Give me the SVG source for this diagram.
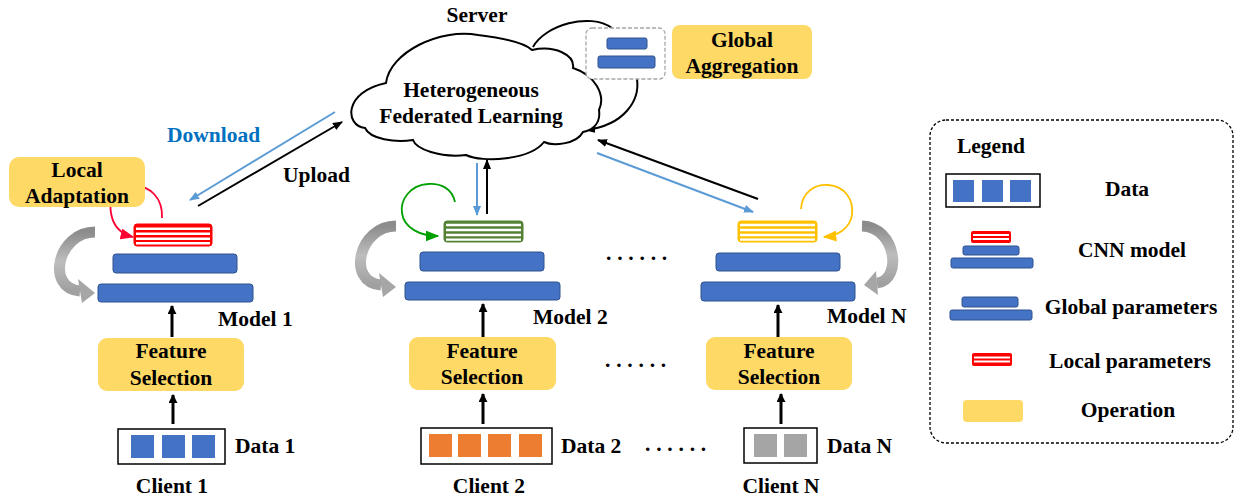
<svg xmlns="http://www.w3.org/2000/svg" width="1236" height="499" viewBox="0 0 1236 499">
<defs>
<style>
.t{font-family:"Liberation Serif","Times New Roman",serif;font-weight:bold;font-size:21.5px;fill:#000}
.c{text-anchor:middle}
.bar{fill:#4472C4;stroke:#2F528F;stroke-width:1}
.op{fill:#FFD966}
.box{fill:#fff;stroke:#000;stroke-width:1.5}
.ln{fill:none;stroke:#000;stroke-width:2}
.bl{fill:none;stroke:#5B9BD5;stroke-width:2}
.thick{fill:none;stroke:#000;stroke-width:3}
.gr{fill:none;stroke:url(#gg);stroke-width:11}
.ws{stroke:#fff;stroke-width:2.4}
.wl{stroke:#fff;stroke-width:1.8}
</style>
<linearGradient id="gg" x1="0" y1="0" x2="0" y2="1">
<stop offset="0" stop-color="#8C8C8C"/>
<stop offset="0.5" stop-color="#BDBDBD"/>
<stop offset="1" stop-color="#A0A0A0"/>
</linearGradient>
<marker id="ab" viewBox="0 0 10 8" refX="9" refY="4" markerWidth="10" markerHeight="8" markerUnits="userSpaceOnUse" orient="auto"><path d="M0,0 L10,4 L0,8 z" fill="#000"/></marker>
<marker id="abt" viewBox="0 0 10 10" refX="9" refY="5" markerWidth="9" markerHeight="9" markerUnits="userSpaceOnUse" orient="auto"><path d="M0,0 L10,5 L0,10 z" fill="#000"/></marker>
<marker id="ablue" viewBox="0 0 10 8" refX="9" refY="4" markerWidth="10" markerHeight="8" markerUnits="userSpaceOnUse" orient="auto"><path d="M0,0 L10,4 L0,8 z" fill="#5B9BD5"/></marker>
<marker id="ared" viewBox="0 0 10 8" refX="9" refY="4" markerWidth="14" markerHeight="11" markerUnits="userSpaceOnUse" orient="auto"><path d="M0,0 L10,4 L0,8 z" fill="#FF0033"/></marker>
<marker id="agreen" viewBox="0 0 10 8" refX="9" refY="4" markerWidth="14" markerHeight="11" markerUnits="userSpaceOnUse" orient="auto"><path d="M0,0 L10,4 L0,8 z" fill="#00A000"/></marker>
<marker id="ayel" viewBox="0 0 10 8" refX="9" refY="4" markerWidth="14" markerHeight="11" markerUnits="userSpaceOnUse" orient="auto"><path d="M0,0 L10,4 L0,8 z" fill="#FFC000"/></marker>
</defs>
<rect width="1236" height="499" fill="#fff"/>

<!-- Server -->
<g id="server">
<text class="t c" x="477" y="22">Server</text>
<path d="M533,47 C545,25 590,12 612,28" class="ln"/>
<path d="M637,79 C640,100 625,125 586,130" class="ln" marker-end="url(#ab)"/>
<path d="M365,128 C345,126 343,92 386,83 C390,52 440,28 478,35 C503,38 524,42 532,50 C555,45 575,55 573,68 C595,75 606,95 599,110 C601,124 592,130 583,132 C576,145 552,146 544,142 C530,160 483,163 466,155 C440,158 416,149 413,140 C395,143 370,139 365,128 Z" fill="#fff" stroke="#000" stroke-width="2"/>
<text class="t c" x="471" y="97">Heterogeneous</text>
<text class="t c" x="471" y="123">Federated Learning</text>
<rect x="586" y="28" width="79" height="51" rx="6" fill="#fff" stroke="#A6A6A6" stroke-width="1.3" stroke-dasharray="4,2"/>
<rect class="bar" x="607" y="38" width="40" height="11" rx="2"/>
<rect class="bar" x="598" y="56" width="57" height="12" rx="2"/>
</g>
<g id="global-aggregation">
<rect class="op" x="672" y="25" width="140" height="54" rx="8"/>
<text class="t c" x="742" y="47">Global</text>
<text class="t c" x="742" y="73">Aggregation</text>
</g>

<!-- connectors -->
<g id="connectors">
<line x1="335" y1="112" x2="190" y2="200" class="bl" marker-end="url(#ablue)"/>
<line x1="198" y1="206" x2="342" y2="122" class="ln" marker-end="url(#ab)"/>
<line x1="477" y1="163" x2="477" y2="215" class="bl" marker-end="url(#ablue)"/>
<line x1="487" y1="214" x2="487" y2="160" class="ln" marker-end="url(#ab)"/>
<line x1="597" y1="153" x2="753" y2="212" class="bl" marker-end="url(#ablue)"/>
<line x1="758" y1="199" x2="598" y2="140" class="ln" marker-end="url(#ab)"/>
<line x1="172" y1="337" x2="172" y2="306" class="thick" marker-end="url(#abt)"/>
<line x1="483" y1="337" x2="483" y2="304" class="thick" marker-end="url(#abt)"/>
<line x1="778" y1="337" x2="778" y2="305" class="thick" marker-end="url(#abt)"/>
<line x1="173" y1="424" x2="173" y2="395" class="thick" marker-end="url(#abt)"/>
<line x1="483" y1="424" x2="483" y2="394" class="thick" marker-end="url(#abt)"/>
<line x1="781" y1="424" x2="781" y2="394" class="thick" marker-end="url(#abt)"/>
<path d="M162,218 C163,198 150,186 135,186 C120,186 108,198 111,213 C113,226 121,234 133,237" fill="none" stroke="#FF0033" stroke-width="1.8" marker-end="url(#ared)"/>
<path d="M455,202 C452,188 440,183 428,184 C410,185 400,200 402,213 C404,228 420,236 438,236" fill="none" stroke="#00A000" stroke-width="1.8" marker-end="url(#agreen)"/>
<path d="M801,209 C802,192 815,184 828,185 C845,186 854,200 852,215 C850,228 838,236 824,237" fill="none" stroke="#FFC000" stroke-width="1.8" marker-end="url(#ayel)"/>
<path class="gr" d="M95,232 C58,232 45,288 80,291"/>
<polygon points="78,279 82,303 95,293" fill="#A6A6A6"/>
<g transform="translate(301,-6)">
<path class="gr" d="M95,232 C58,232 45,288 80,291"/>
<polygon points="78,279 82,303 95,293" fill="#A6A6A6"/>
</g>
<path class="gr" d="M862,226 C896,227 903,280 877,283"/>
<polygon points="876,271 878,295 864,285" fill="#A6A6A6"/>
</g>

<text class="t" x="167" y="142" style="fill:#0070C0">Download</text>
<text class="t" x="283" y="182">Upload</text>

<g id="local-adaptation">
<rect class="op" x="9" y="157" width="136" height="50" rx="10"/>
<text class="t c" x="77" y="177">Local</text>
<text class="t c" x="77" y="203">Adaptation</text>
</g>

<g id="model1">
<rect x="134" y="224" width="78" height="22" rx="3" fill="#FF0000" stroke="#FF0000" stroke-width="1"/>
<line class="ws" x1="136" y1="228.7" x2="210" y2="228.7"/>
<line class="ws" x1="136" y1="233.8" x2="210" y2="233.8"/>
<line class="ws" x1="136" y1="238.8" x2="210" y2="238.8"/>
<line class="ws" x1="136" y1="243.3" x2="210" y2="243.3"/>
<rect class="bar" x="113" y="254" width="124" height="19" rx="3"/>
<rect class="bar" x="98" y="284" width="155" height="18" rx="3"/>
<text class="t" x="218" y="326">Model 1</text>
</g>
<g id="model2">
<rect x="444" y="221" width="79" height="21" rx="3" fill="#548235" stroke="#548235" stroke-width="1"/>
<line class="ws" x1="446" y1="225" x2="521" y2="225"/>
<line class="ws" x1="446" y1="230" x2="521" y2="230"/>
<line class="ws" x1="446" y1="235" x2="521" y2="235"/>
<line class="ws" x1="446" y1="239.6" x2="521" y2="239.6"/>
<rect class="bar" x="420" y="252" width="124" height="19" rx="3"/>
<rect class="bar" x="405" y="282" width="155" height="18" rx="3"/>
<text class="t" x="533" y="324">Model 2</text>
</g>
<g id="modelN">
<rect x="738" y="221" width="79" height="21" rx="3" fill="#FFC000" stroke="#FFC000" stroke-width="1"/>
<line class="ws" x1="740" y1="225" x2="815" y2="225"/>
<line class="ws" x1="740" y1="230" x2="815" y2="230"/>
<line class="ws" x1="740" y1="235" x2="815" y2="235"/>
<line class="ws" x1="740" y1="239.6" x2="815" y2="239.6"/>
<rect class="bar" x="716" y="253" width="124" height="18" rx="3"/>
<rect class="bar" x="701" y="282" width="154" height="19" rx="3"/>
<text class="t" x="827" y="323">Model N</text>
</g>

<text class="t" x="606" y="260" style="letter-spacing:5.8px">......</text>
<text class="t" x="605" y="367" style="letter-spacing:5.8px">......</text>
<text class="t" x="645" y="451" style="letter-spacing:5.8px">......</text>

<g id="fs1"><rect class="op" x="98" y="338" width="146" height="53" rx="9"/>
<text class="t c" x="171" y="358">Feature</text><text class="t c" x="171" y="385">Selection</text></g>
<g id="fs2"><rect class="op" x="409" y="337" width="147" height="53" rx="9"/>
<text class="t c" x="482" y="358">Feature</text><text class="t c" x="482" y="384">Selection</text></g>
<g id="fsN"><rect class="op" x="706" y="337" width="146" height="53" rx="9"/>
<text class="t c" x="779" y="358">Feature</text><text class="t c" x="779" y="384">Selection</text></g>

<g id="client1">
<rect class="box" x="118" y="429" width="107" height="35"/>
<rect x="131" y="435" width="23" height="23" fill="#4472C4"/>
<rect x="162" y="435" width="23" height="23" fill="#4472C4"/>
<rect x="192" y="435" width="23" height="23" fill="#4472C4"/>
<text class="t" x="235" y="453">Data 1</text>
<text class="t c" x="172" y="493">Client 1</text>
</g>
<g id="client2">
<rect class="box" x="421" y="428" width="131" height="36"/>
<rect x="429" y="434" width="23" height="23" fill="#ED7D31"/>
<rect x="458" y="434" width="23" height="23" fill="#ED7D31"/>
<rect x="488" y="434" width="23" height="23" fill="#ED7D31"/>
<rect x="519" y="434" width="23" height="23" fill="#ED7D31"/>
<text class="t" x="561" y="453">Data 2</text>
<text class="t c" x="489" y="493">Client 2</text>
</g>
<g id="clientN">
<rect class="box" x="744" y="428" width="73" height="35"/>
<rect x="754" y="434" width="23" height="23" fill="#A5A5A5"/>
<rect x="784" y="434" width="23" height="23" fill="#A5A5A5"/>
<text class="t" x="827" y="453">Data N</text>
<text class="t c" x="781" y="493">Client N</text>
</g>

<g id="legend">
<rect x="930" y="120" width="303" height="323" rx="16" fill="none" stroke="#000" stroke-width="1.3" stroke-dasharray="3,2"/>
<text class="t c" x="991" y="153">Legend</text>
<rect class="box" x="946" y="174" width="94" height="33"/>
<rect x="953" y="180" width="21" height="22" fill="#4472C4"/>
<rect x="982" y="180" width="21" height="22" fill="#4472C4"/>
<rect x="1010" y="180" width="21" height="22" fill="#4472C4"/>
<text class="t c" x="1127" y="196">Data</text>
<rect x="971" y="231" width="40" height="12" rx="2" fill="#FF0000"/>
<line class="wl" x1="973" y1="235" x2="1009" y2="235"/>
<line class="wl" x1="973" y1="239" x2="1009" y2="239"/>
<rect class="bar" x="963" y="246" width="56" height="9" rx="2"/>
<rect class="bar" x="951" y="258" width="82" height="10" rx="2"/>
<text class="t c" x="1132" y="257">CNN model</text>
<rect class="bar" x="962" y="297" width="56" height="10" rx="2"/>
<rect class="bar" x="950" y="310" width="82" height="10" rx="2"/>
<text class="t c" x="1131" y="314">Global parameters</text>
<rect x="972" y="353" width="40" height="13" rx="2" fill="#FF0000"/>
<line class="wl" x1="974" y1="357.5" x2="1010" y2="357.5"/>
<line class="wl" x1="974" y1="361.5" x2="1010" y2="361.5"/>
<text class="t c" x="1130" y="368">Local parameters</text>
<rect class="op" x="963" y="400" width="60" height="22" rx="4"/>
<text class="t c" x="1128" y="417">Operation</text>
</g>
</svg>
